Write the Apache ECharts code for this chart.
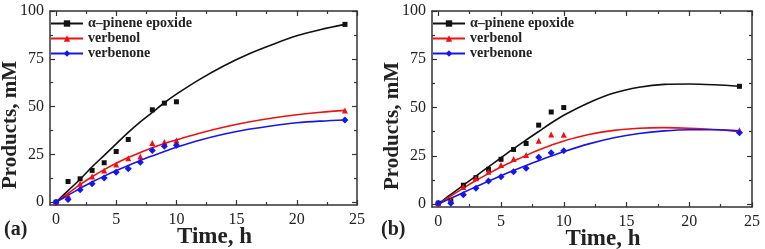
<!DOCTYPE html>
<html>
<head>
<meta charset="utf-8">
<script src="https://cdn.jsdelivr.net/npm/echarts@6/dist/echarts.min.js"></script>
<style>html,body{margin:0;padding:0;background:#fff}#c{width:765px;height:249px}</style>
</head>
<body>
<div id="c"></div>
<script>
// ---- data ----
const seriesNames = ['α–pinene epoxide', 'verbenol', 'verbenone'];
const measTime = [0, 1, 2, 3, 4, 5, 6, 7, 8, 9, 10, 24];
const epoxA = [0, 10.8, 12.2, 16.6, 20.6, 26.5, 32.8, null, 48.3, 51.8, 52.5, 93];
const verbenolA = [0, 3.5, 9.6, 13.4, 16.6, 19.7, 23, 23.9, 30.9, 31.4, 32.3, 48];
const verbenoneA = [0, 1.4, 6.5, 9.6, 12.6, 15.7, 17.5, 20.9, 27, 29.3, 29.7, 43];
const epoxB = [0.5, 1.7, 9.8, 13.7, 18, 23.2, 28.3, 31.4, 40.9, 47.7, 50, 61];
const verbenolB = [0.5, 1.7, 8.8, 13.4, 16.8, 20.3, 23.4, 25.4, 32.8, 36.1, 35.9, 38.3];
const verbenoneB = [0.5, 0.5, 4.8, 8.2, 12, 14.2, 16.8, 18.6, 24.2, 26.6, 27.6, 36.9];

const fitTime = [0, 1, 2, 3, 4, 5, 6, 7, 8, 9, 10, 12, 14, 16, 18, 20, 22, 24];
const fitEpoxA = [0, 6, 12, 18.5, 24.5, 30.5, 36.5, 42, 47, 52, 56.5, 64.5, 71.5, 77.5, 82.5, 87, 90.3, 93];
const fitVerbenolA = [0, 4.6, 9.2, 13.3, 17, 20.3, 23.3, 26, 28.5, 30.7, 32.6, 36.2, 39.3, 41.9, 44, 45.7, 47, 48];
const fitVerbenoneA = [0, 3.6, 7.2, 10.5, 13.6, 16.5, 19.2, 21.8, 24.2, 26.5, 28.7, 32.5, 35.6, 38.1, 40, 41.5, 42.4, 43];
const fitEpoxB = [0, 5, 9.8, 14.5, 19.3, 24, 28.7, 33.2, 37.6, 42, 46, 52.5, 57.5, 60.5, 62, 62.2, 61.8, 61];
const fitVerbenolB = [0, 4.2, 8.3, 12.2, 15.8, 19.2, 22.3, 25.2, 28, 30.5, 32.7, 36, 38.2, 39.3, 39.6, 39.3, 38.6, 37.5];
const fitVerbenoneB = [0, 3, 6, 9, 11.9, 14.7, 17.4, 20, 22.5, 24.9, 27.2, 31.2, 34.4, 36.6, 37.9, 38.5, 38.5, 38];

const xMajor = [0, 5, 10, 15, 20, 25];
const xMinor = [2.5, 7.5, 12.5, 17.5, 22.5];
const yMajor = [0, 25, 50, 75, 100];
const yMinor = [12.5, 37.5, 62.5, 87.5];

// ---- styling ----
const FONT = "'Liberation Serif', 'DejaVu Serif', serif";
const AX = '#333';
const colors = ['#111111', '#f01010', '#1515f0'];
const symbols = ['rect', 'triangle', 'diamond'];
const symSizes = [5, 6, 7];

function pairs(t, v) { return t.map((x, i) => [x, v[i]]); }

function xAxes(g) {
  const base = { type: 'value', gridIndex: g, min: -0.5, max: 25, splitLine: { show: false } };
  const line = { onZero: false, lineStyle: { color: AX, width: 1.5 } };
  return [
    Object.assign({}, base, {
      position: 'bottom', axisLine: line,
      axisTick: { inside: true, length: 5, customValues: xMajor, lineStyle: { color: AX, width: 1.2 } },
      axisLabel: { customValues: xMajor, fontSize: 16, margin: 7, color: '#222', fontFamily: FONT },
      name: 'Time, h', nameLocation: 'middle', nameGap: 21, nameMoveOverlap: false,
      nameTextStyle: { fontSize: 23, fontWeight: 'bold', fontFamily: FONT, color: '#222', padding: [0, 0, 0, 22] }
    }),
    Object.assign({}, base, {
      position: 'bottom', axisLine: { show: false, onZero: false },
      axisTick: { inside: true, length: 3, customValues: xMinor, lineStyle: { color: AX, width: 1.2 } },
      axisLabel: { show: false }
    }),
    Object.assign({}, base, {
      position: 'top', axisLine: line,
      axisTick: { inside: true, length: 5, customValues: xMajor, lineStyle: { color: AX, width: 1.2 } },
      axisLabel: { show: false }
    }),
    Object.assign({}, base, {
      position: 'top', axisLine: { show: false, onZero: false },
      axisTick: { inside: true, length: 3, customValues: xMinor, lineStyle: { color: AX, width: 1.2 } },
      axisLabel: { show: false }
    })
  ];
}
function yAxes(g) {
  const base = { type: 'value', gridIndex: g, min: -1.5, max: 100, splitLine: { show: false } };
  const line = { onZero: false, lineStyle: { color: AX, width: 1.5 } };
  return [
    Object.assign({}, base, {
      position: 'left', axisLine: line,
      axisTick: { inside: true, length: 5, customValues: yMajor, lineStyle: { color: AX, width: 1.2 } },
      axisLabel: { customValues: yMajor, fontSize: 16, margin: 6, color: '#222', fontFamily: FONT },
      name: 'Products, mM', nameLocation: 'middle', nameGap: 29, nameMoveOverlap: false,
      nameTextStyle: { fontSize: 21, fontWeight: 'bold', fontFamily: FONT, color: '#222', padding: [0, 34, 0, 0] }
    }),
    Object.assign({}, base, {
      position: 'left', axisLine: { show: false, onZero: false },
      axisTick: { inside: true, length: 3, customValues: yMinor, lineStyle: { color: AX, width: 1.2 } },
      axisLabel: { show: false }
    }),
    Object.assign({}, base, {
      position: 'right', axisLine: line,
      axisTick: { inside: true, length: 5, customValues: yMajor, lineStyle: { color: AX, width: 1.2 } },
      axisLabel: { show: false }
    }),
    Object.assign({}, base, {
      position: 'right', axisLine: { show: false, onZero: false },
      axisTick: { inside: true, length: 3, customValues: yMinor, lineStyle: { color: AX, width: 1.2 } },
      axisLabel: { show: false }
    })
  ];
}

const panels = [
  { meas: [epoxA, verbenolA, verbenoneA], fit: [fitEpoxA, fitVerbenolA, fitVerbenoneA] },
  { meas: [epoxB, verbenolB, verbenoneB], fit: [fitEpoxB, fitVerbenolB, fitVerbenoneB] }
];

const series = [];
panels.forEach((p, g) => {
  for (let k = 0; k < 3; k++) {
    series.push({
      type: 'line', name: seriesNames[k], xAxisIndex: g * 4, yAxisIndex: g * 4,
      data: pairs(fitTime, p.fit[k]), smooth: 0.35, showSymbol: false,
      symbol: symbols[k], symbolSize: symSizes[k],
      lineStyle: { color: colors[k], width: 1.6 }, itemStyle: { color: colors[k] },
      z: 2
    });
  }
  for (let k = 0; k < 3; k++) {
    series.push({
      type: 'scatter', name: 'meas' + g + k, xAxisIndex: g * 4, yAxisIndex: g * 4,
      data: pairs(measTime, p.meas[k]).filter(d => d[1] !== null),
      symbol: symbols[k], symbolSize: symSizes[k],
      itemStyle: { color: colors[k], opacity: 1 }, z: 3
    });
  }
});

function legend(left) {
  return {
    data: seriesNames, orient: 'vertical', left: left, top: 11,
    itemWidth: 32, itemHeight: 8, itemGap: 0, selectedMode: false,
    textStyle: { fontSize: 14, fontWeight: 'bold', fontFamily: FONT, color: '#222', lineHeight: 15 }
  };
}

const option = {
  animation: false,
  backgroundColor: '#fff',
  title: [
    { text: '(a)', left: -1, top: 215, textStyle: { fontSize: 20, fontWeight: 'bold', fontFamily: FONT, color: '#222' } },
    { text: '(b)', left: 376, top: 215, textStyle: { fontSize: 20, fontWeight: 'bold', fontFamily: FONT, color: '#222' } }
  ],
  legend: [legend(45), legend(427)],
  grid: [
    { left: 50, right: 408, top: 11, bottom: 44, outerBoundsMode: 'none', containLabel: false },
    { left: 432, right: 13, top: 11, bottom: 42, outerBoundsMode: 'none', containLabel: false }
  ],
  xAxis: xAxes(0).concat(xAxes(1)),
  yAxis: yAxes(0).concat(yAxes(1)),
  series: series
};

const chart = echarts.init(document.getElementById('c'), null, { renderer: 'canvas' });
chart.setOption(option);
</script>
</body>
</html>
